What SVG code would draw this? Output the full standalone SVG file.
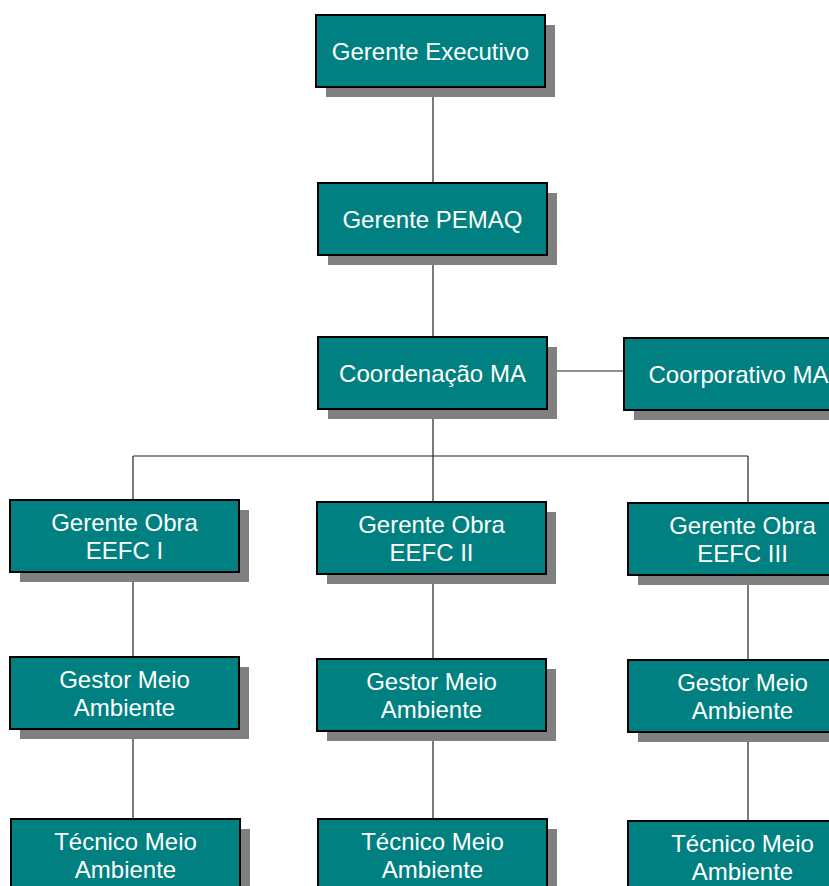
<svg xmlns="http://www.w3.org/2000/svg" width="829" height="886" viewBox="0 0 829 886">
<style>
.sh{fill:#808080}
.bx{fill:#008080;stroke:#000;stroke-width:2}
.t{fill:#fff;font-family:"Liberation Sans",Arial,sans-serif;font-size:24px;text-anchor:middle}
.c line{stroke:#222;stroke-width:1.2}
</style>
<rect width="829" height="886" fill="#fff"/>
<g id="connectors" class="c">
<line x1="433" y1="87" x2="433" y2="183"/>
<line x1="433" y1="253" x2="433" y2="337"/>
<line x1="547" y1="371" x2="624" y2="371"/>
<line x1="433" y1="409" x2="433" y2="502"/>
<line x1="133" y1="456" x2="748" y2="456"/>
<line x1="133" y1="456" x2="133" y2="500"/>
<line x1="748" y1="456" x2="748" y2="503"/>
<line x1="133" y1="572" x2="133" y2="657"/>
<line x1="133" y1="729" x2="133" y2="819"/>
<line x1="433" y1="574" x2="433" y2="659"/>
<line x1="433" y1="731" x2="433" y2="819"/>
<line x1="748" y1="575" x2="748" y2="660"/>
<line x1="748" y1="732" x2="748" y2="821"/>
</g>
<g id="exec"><rect class="sh" x="326" y="25" width="229" height="72"/><rect class="bx" x="316" y="15" width="229" height="72"/><text class="t" x="430.5" y="59.5">Gerente Executivo</text></g>
<g id="pemaq"><rect class="sh" x="328" y="193" width="229" height="72"/><rect class="bx" x="318" y="183" width="229" height="72"/><text class="t" x="432.5" y="227.5">Gerente PEMAQ</text></g>
<g id="coord"><rect class="sh" x="328" y="347" width="229" height="72"/><rect class="bx" x="318" y="337" width="229" height="72"/><text class="t" x="432.5" y="381.5">Coordenação MA</text></g>
<g id="corp"><rect class="sh" x="634" y="348" width="229" height="72"/><rect class="bx" x="624" y="338" width="229" height="72"/><text class="t" x="738.5" y="382.5">Coorporativo MA</text></g>
<g id="go1"><rect class="sh" x="20" y="510" width="229" height="72"/><rect class="bx" x="10" y="500" width="229" height="72"/><text class="t" x="124.5" y="531">Gerente Obra</text><text class="t" x="124.5" y="558.5">EEFC I</text></g>
<g id="go2"><rect class="sh" x="327" y="512" width="229" height="72"/><rect class="bx" x="317" y="502" width="229" height="72"/><text class="t" x="431.5" y="533">Gerente Obra</text><text class="t" x="431.5" y="560.5">EEFC II</text></g>
<g id="go3"><rect class="sh" x="638" y="513" width="229" height="72"/><rect class="bx" x="628" y="503" width="229" height="72"/><text class="t" x="742.5" y="534">Gerente Obra</text><text class="t" x="742.5" y="561.5">EEFC III</text></g>
<g id="gm1"><rect class="sh" x="20" y="667" width="229" height="72"/><rect class="bx" x="10" y="657" width="229" height="72"/><text class="t" x="124.5" y="688">Gestor Meio</text><text class="t" x="124.5" y="715.5">Ambiente</text></g>
<g id="gm2"><rect class="sh" x="327" y="669" width="229" height="72"/><rect class="bx" x="317" y="659" width="229" height="72"/><text class="t" x="431.5" y="690">Gestor Meio</text><text class="t" x="431.5" y="717.5">Ambiente</text></g>
<g id="gm3"><rect class="sh" x="638" y="670" width="229" height="72"/><rect class="bx" x="628" y="660" width="229" height="72"/><text class="t" x="742.5" y="691">Gestor Meio</text><text class="t" x="742.5" y="718.5">Ambiente</text></g>
<g id="tm1"><rect class="sh" x="21" y="829" width="229" height="72"/><rect class="bx" x="11" y="819" width="229" height="72"/><text class="t" x="125.5" y="850">Técnico Meio</text><text class="t" x="125.5" y="877.5">Ambiente</text></g>
<g id="tm2"><rect class="sh" x="328" y="829" width="229" height="72"/><rect class="bx" x="318" y="819" width="229" height="72"/><text class="t" x="432.5" y="850">Técnico Meio</text><text class="t" x="432.5" y="877.5">Ambiente</text></g>
<g id="tm3"><rect class="sh" x="638" y="831" width="229" height="72"/><rect class="bx" x="628" y="821" width="229" height="72"/><text class="t" x="742.5" y="852">Técnico Meio</text><text class="t" x="742.5" y="879.5">Ambiente</text></g>
</svg>
